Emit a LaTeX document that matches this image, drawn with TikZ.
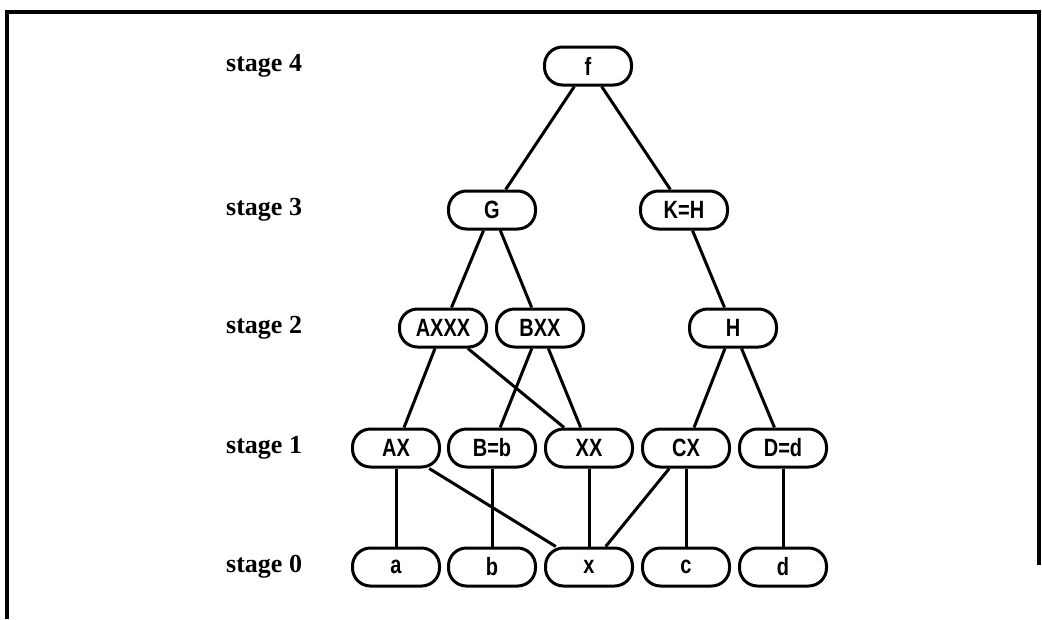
\documentclass[tikz,border=0pt]{standalone}
\usepackage{fontspec}
\setmainfont{Liberation Serif}
\newfontfamily\nodefont[FakeStretch=0.8]{Liberation Sans}
\begin{document}
\begin{tikzpicture}[x=1pt,y=-1pt,
  term/.style={draw, line width=3pt, rounded corners=18pt,
    minimum width=87pt, minimum height=38pt, inner sep=0pt,
    font=\nodefont\bfseries\fontsize{25}{25}\selectfont},
  stagelabel/.style={anchor=west, inner sep=0pt,
    font=\bfseries\fontsize{26}{26}\selectfont},
  link/.style={line width=3pt}]
\useasboundingbox (0,0) rectangle (1042,619);
% frame, open along the bottom edge
\draw[line width=4.5pt] (7,619) -- (7,12) -- (1039,12) -- (1039,565);

% stage labels
\node[stagelabel] (s4) at (226,66) {stage 4};
\node[stagelabel] (s3) at (226,210) {stage 3};
\node[stagelabel] (s2) at (226,328) {stage 2};
\node[stagelabel] (s1) at (226,448) {stage 1};
\node[stagelabel] (s0) at (226,567) {stage 0};

% stage 4
\node[term] (f) at (588,66) {f};
% stage 3
\node[term] (G) at (492,210) {G};
\node[term] (KH) at (684,210) {K=H};
% stage 2
\node[term] (AXXX) at (443,328) {AXXX};
\node[term] (BXX) at (540,328) {BXX};
\node[term] (H) at (733,328) {H};
% stage 1
\node[term] (AX) at (396,448) {AX};
\node[term] (Bb) at (492,448) {B=b};
\node[term] (XX) at (589,448) {XX};
\node[term] (CX) at (686,448) {CX};
\node[term] (Dd) at (783,448) {D=d};
% stage 0
\node[term] (a) at (396,567) {a};
\node[term] (b) at (492,567) {b};
\node[term] (x) at (589,567) {x};
\node[term] (c) at (686,567) {c};
\node[term] (d) at (783,567) {d};

% connections
\draw[link] (f) -- (G);
\draw[link] (f) -- (KH);
\draw[link] (G) -- (AXXX);
\draw[link] (G) -- (BXX);
\draw[link] (KH) -- (H);
\draw[link] (AXXX) -- (AX);
\draw[link] (AXXX) -- (XX);
\draw[link] (BXX) -- (Bb);
\draw[link] (BXX) -- (XX);
\draw[link] (H) -- (CX);
\draw[link] (H) -- (Dd);
\draw[link] (AX) -- (a);
\draw[link] (AX) -- (x);
\draw[link] (Bb) -- (b);
\draw[link] (XX) -- (x);
\draw[link] (CX) -- (x);
\draw[link] (CX) -- (c);
\draw[link] (Dd) -- (d);
\end{tikzpicture}
\end{document}
